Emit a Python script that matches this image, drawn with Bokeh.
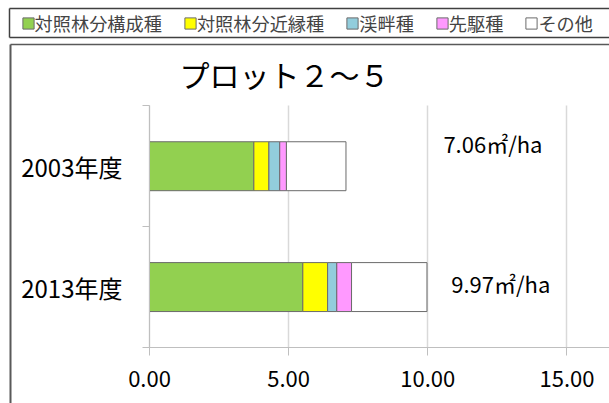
from bokeh.plotting import figure
from bokeh.models import (ColumnDataSource, FixedTicker, NumeralTickFormatter, Legend,
                          LegendItem, Label, Range1d)
from bokeh.embed import file_html
from bokeh.resources import INLINE

# ---------------- data ----------------
categories = ["2003年度", "2013年度"]
series = ["対照林分構成種", "対照林分近縁種", "渓畔種", "先駆種", "その他"]
kousei = [3.75, 5.51]   # 対照林分構成種
kinen = [0.54, 0.89]    # 対照林分近縁種
keihan = [0.39, 0.33]   # 渓畔種
senku = [0.24, 0.53]    # 先駆種
sonota = [2.14, 2.71]   # その他
totals = [7.06, 9.97]
x_ticks = [0, 5, 10, 15]
title_text = "プロット２～５"
unit_text = "㎡/ha"

# ---------------- style / layout ----------------
colors = ["#92D050", "#FFFF00", "#92CDDC", "#FF99FF", "#FFFFFF"]
FONT = "Noto Sans CJK JP"
W, H = 609, 403
X0_PX = 149          # pixel column of x = 0
AXIS_Y_PX = 347      # pixel row of the category axis bottom
PX_PER_X = 27.83
PX_PER_Y = 120.85

n = len(categories)
ypos = [n - i - 0.5 for i in range(n)]
cols = ["kousei", "kinen", "keihan", "senku", "sonota"]
source = ColumnDataSource(dict(y=ypos, kousei=kousei, kinen=kinen, keihan=keihan,
                               senku=senku, sonota=sonota))

x_end = (W - X0_PX) / PX_PER_X
p = figure(width=W, height=H, title=None,
           x_range=Range1d(-X0_PX / PX_PER_X, x_end),
           y_range=Range1d(-(H - AXIS_Y_PX) / PX_PER_Y, AXIS_Y_PX / PX_PER_Y),
           output_backend="svg", toolbar_location=None,
           min_border_left=0, min_border_right=0, min_border_top=0, min_border_bottom=0)
p.outline_line_color = None
p.background_fill_color = "white"
p.border_fill_color = "white"


def px_x(px):
    return (px - X0_PX) / PX_PER_X


def px_y(py):
    return (AXIS_Y_PX - py) / PX_PER_Y


# frame lines of the legend box and the chart box (decoration)
p.segment(x0=[px_x(9), px_x(9), px_x(9)], y0=[px_y(8), px_y(37), px_y(8)],
          x1=[px_x(W + 5), px_x(W + 5), px_x(9)], y1=[px_y(8), px_y(37), px_y(37)],
          line_color="#404040", line_width=1.5)
p.segment(x0=[px_x(10)], y0=[px_y(44)], x1=[px_x(W + 5)], y1=[px_y(44)],
          line_color="#595959", line_width=1.5)
p.segment(x0=[px_x(10)], y0=[px_y(44)], x1=[px_x(10)], y1=[px_y(H + 5)],
          line_color="#595959", line_width=2)

renderers = p.hbar_stack(cols, y="y", height=0.405, source=source,
                         fill_color=colors, line_color="#6b6b6b", line_width=1)

# x axis
xa = p.xaxis[0]
xa.fixed_location = 0
xa.bounds = (0, x_end)
xa.ticker = FixedTicker(ticks=x_ticks)
xa.formatter = NumeralTickFormatter(format="0.00")
xa.axis_line_color = "#BFBFBF"
xa.major_tick_line_color = "#BFBFBF"
xa.major_tick_out = 8
xa.major_tick_in = 0
xa.minor_tick_line_color = None
xa.major_label_text_font = FONT
xa.major_label_text_font_size = "22px"
xa.major_label_text_color = "black"
xa.major_label_standoff = 15

# y axis (ticks between categories, labels at centers)
ya = p.yaxis[0]
ya.fixed_location = 0
ya.bounds = (0, n)
ya.ticker = FixedTicker(ticks=ypos, minor_ticks=list(range(n + 1)))
ya.major_label_overrides = {y: c for y, c in zip(ypos, categories)}
ya.axis_line_color = "#BFBFBF"
ya.major_tick_out = 0
ya.major_tick_in = 0
ya.minor_tick_line_color = "#BFBFBF"
ya.minor_tick_out = 7
ya.minor_tick_in = 0
ya.major_label_text_font = FONT
ya.major_label_text_font_size = "24px"
ya.major_label_text_color = "black"
ya.major_label_standoff = 20

p.xgrid.ticker = FixedTicker(ticks=x_ticks)
p.xgrid.cross_bounds = (0, n)
p.xgrid.grid_line_color = "#D9D9D9"
p.xgrid.grid_line_width = 1.5
p.ygrid.grid_line_color = None

# legend
legend = Legend(items=[LegendItem(label=s, renderers=[r]) for s, r in zip(series, renderers)],
                orientation="horizontal", location=(20.6, H - 36),
                margin=0, padding=0, spacing=21, glyph_width=14, glyph_height=14,
                label_standoff=0, label_text_font=FONT, label_text_font_size="18.2px",
                label_height=14, border_line_color=None, background_fill_alpha=0)
p.add_layout(legend, "center")

# title
p.add_layout(Label(x=284, y=73, x_units="canvas", y_units="canvas", text=title_text,
                   text_font=FONT, text_font_size="30px", text_align="center",
                   text_baseline="middle", text_color="black"))

# total annotations
label_x = [10.56, 10.84]
label_dy = [0.195, 0.035]
for t, yy, lx, dy in zip(totals, ypos, label_x, label_dy):
    p.add_layout(Label(x=lx, y=yy + dy, text=f"{t:.2f}{unit_text}", text_font=FONT,
                       text_font_size="22px", text_align="left", text_baseline="middle",
                       text_color="black"))

open("out.html", "w").write(file_html(p, INLINE))
